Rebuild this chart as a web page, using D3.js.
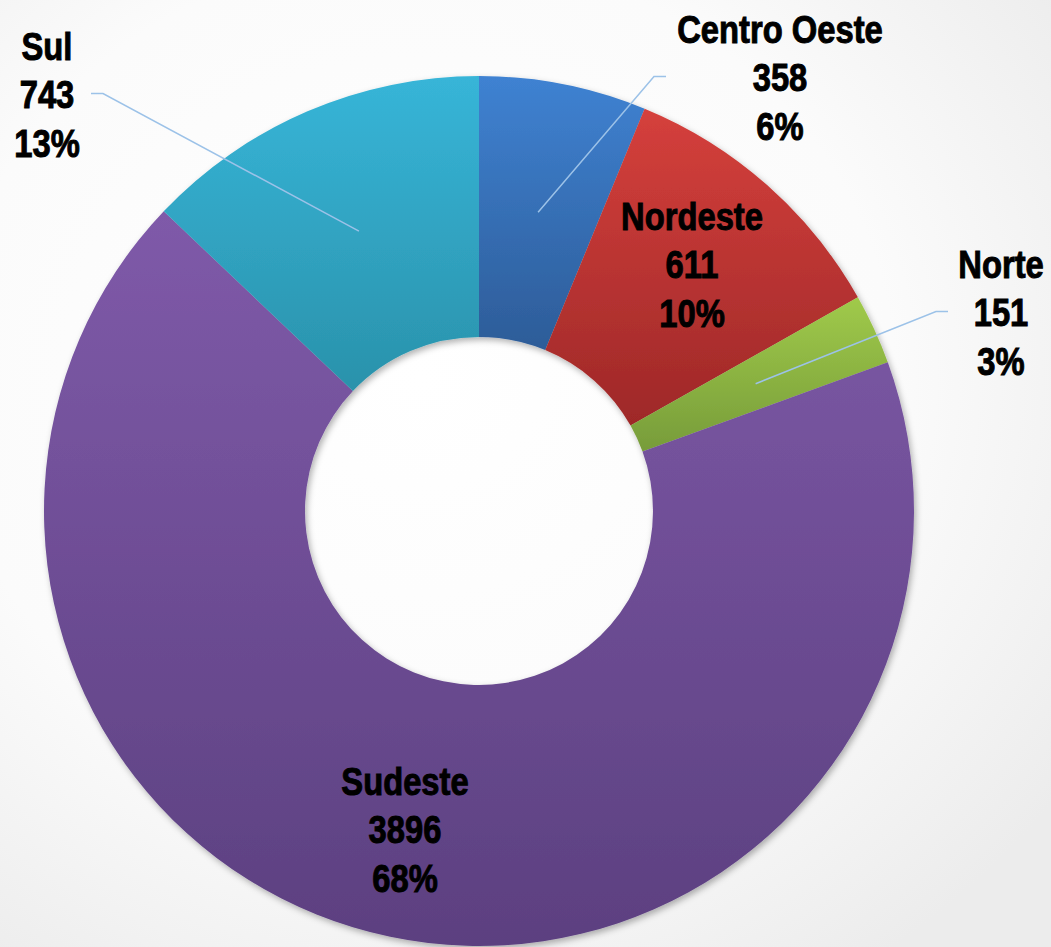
<!DOCTYPE html>
<html>
<head>
<meta charset="utf-8">
<script src="https://cdn.jsdelivr.net/npm/d3@7"></script>
<style>
  html, body { margin: 0; padding: 0; }
  body { width: 1051px; height: 947px; overflow: hidden; }
  text { font-family: "Liberation Sans", Arial, sans-serif; font-weight: bold; }
</style>
</head>
<body>
<div id="chart"></div>
<script>
// data
var regions = ["Centro Oeste", "Nordeste", "Norte", "Sudeste", "Sul"];
var totals = [358, 611, 151, 3896, 743];
var pctLabels = ["6%", "10%", "3%", "68%", "13%"];

// colours (top, bottom of each slice gradient)
var colTop = ["#3f82d2", "#d5403c", "#a0ca4a", "#7f5aa9", "#37b5d8"];
var colBot = ["#2d5c98", "#9e2828", "#779c3a", "#5c4080", "#2a92ab"];

// where each label sits; leader = draw a line to the slice
var labelPos = [
  {x: 780, y: 43, leader: true, ex: 666},
  {x: 692, y: 230, leader: false},
  {x: 1001, y: 278, leader: true, ex: 948},
  {x: 405, y: 795, leader: false},
  {x: 47, y: 60, leader: true, ex: 91}
];

var width = 1051, height = 947;
var cx = 479, cy = 511, outerR = 435, innerR = 174;
var lineH = 48.5;
var squeeze = 0.84; // condensed look

var svg = d3.select("#chart")
  .append("svg")
    .attr("width", width)
    .attr("height", height);

var defs = svg.append("defs");

// background
var bg = defs.append("radialGradient")
    .attr("id", "bg")
    .attr("cx", "40%").attr("cy", "40%").attr("r", "75%");
bg.append("stop").attr("offset", "0%").attr("stop-color", "#ffffff");
bg.append("stop").attr("offset", "60%").attr("stop-color", "#fbfbfb");
bg.append("stop").attr("offset", "100%").attr("stop-color", "#ececec");
svg.append("rect")
    .attr("width", width)
    .attr("height", height)
    .attr("fill", "url(#bg)");

var shadow = defs.append("filter")
    .attr("id", "shadow")
    .attr("x", "-10%").attr("y", "-10%")
    .attr("width", "120%").attr("height", "120%");
shadow.append("feDropShadow")
    .attr("dx", 2).attr("dy", 3)
    .attr("stdDeviation", 3)
    .attr("flood-color", "#000")
    .attr("flood-opacity", 0.3);

regions.forEach(function(r, i) {
  var g = defs.append("linearGradient")
      .attr("id", "grad" + i)
      .attr("x1", 0).attr("y1", 0).attr("x2", 0).attr("y2", 1);
  g.append("stop").attr("offset", "0%").attr("stop-color", colTop[i]);
  g.append("stop").attr("offset", "100%").attr("stop-color", colBot[i]);
});

var data = regions.map(function(r, i) {
  return {name: r, value: totals[i], pct: pctLabels[i], i: i};
});

var pie = d3.pie()
  .value(function(d) { return d.value; })
  .sort(null);

var arc = d3.arc()
  .innerRadius(innerR)
  .outerRadius(outerR);

var arcs = pie(data);

var g = svg.append("g")
    .attr("transform", "translate(" + cx + "," + cy + ")");

g.append("g")
    .attr("filter", "url(#shadow)")
  .selectAll("path")
  .data(arcs)
  .enter()
  .append("path")
    .attr("d", arc)
    .attr("fill", function(d) { return "url(#grad" + d.data.i + ")"; });

// leader lines, from the value line to the slice centroid
arcs.forEach(function(d) {
  var lp = labelPos[d.data.i];
  if (!lp.leader) return;
  var c = arc.centroid(d);
  var ly = lp.y + lineH - 15 - cy;
  var ex = lp.ex - cx;
  var elbow = ex + (c[0] > ex ? 12 : -12);
  g.append("polyline")
      .attr("points", [[ex, ly], [elbow, ly], c].map(function(p) { return p.join(","); }).join(" "))
      .attr("fill", "none")
      .attr("stroke", "#9cc2e8")
      .attr("stroke-width", 1.5);
});

// labels
var labels = svg.append("g")
  .selectAll("text")
  .data(data)
  .enter()
  .append("text")
    .attr("transform", function(d) {
      var lp = labelPos[d.i];
      return "translate(" + lp.x + "," + lp.y + ") scale(" + squeeze + ",1)";
    })
    .attr("text-anchor", "middle")
    .attr("font-size", 39)
    .attr("fill", "#000")
    .attr("stroke", "#000")
    .attr("stroke-width", 1);

labels.each(function(d) {
  var t = d3.select(this);
  [d.name, d.value, d.pct].forEach(function(s, k) {
    t.append("tspan")
        .attr("x", 0)
        .attr("y", k * lineH)
        .text(s);
  });
});
</script>
</body>
</html>
